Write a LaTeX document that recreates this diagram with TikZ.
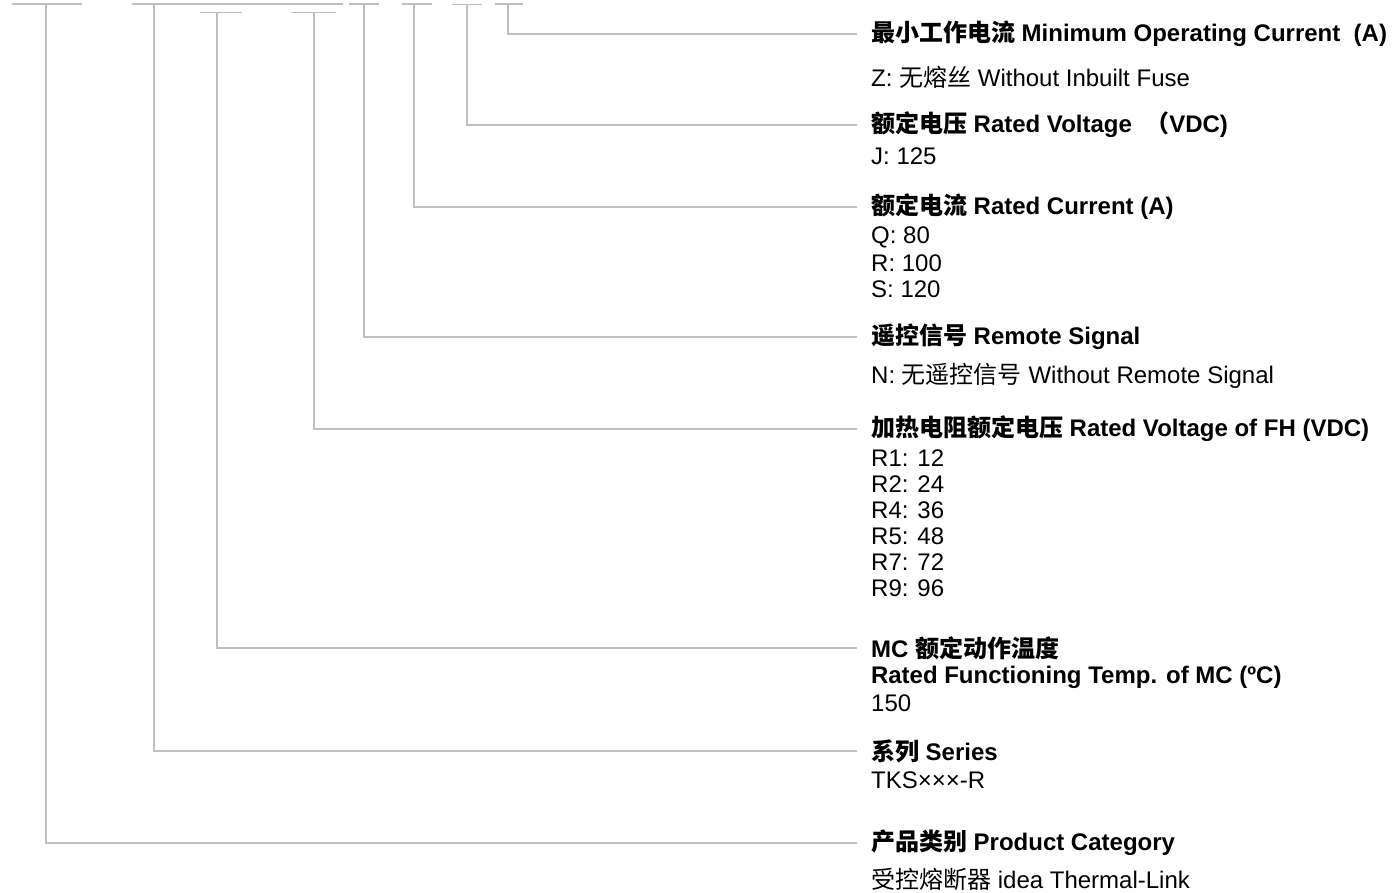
\documentclass[tikz,border=0pt]{standalone}
\usepackage{fontspec}
\setmainfont{Liberation Sans}
\newfontfamily\cjk{Noto Sans CJK SC}
\definecolor{linegray}{RGB}{192,192,192}
\definecolor{txt}{RGB}{0,0,0}
\begin{document}
\begin{tikzpicture}[x=1pt,y=-1pt,
  conn/.style={draw=linegray,line width=1.5pt},
  head/.style={anchor=west,inner sep=0pt,outer xsep=14pt,text=txt,font=\fontsize{24}{26}\selectfont\bfseries},
  body/.style={anchor=west,inner sep=0pt,text=txt,font=\fontsize{24}{26}\selectfont}]
\useasboundingbox (0,0) rectangle (1400,892);

% top bars (left end, stem, right end)
\coordinate (a1) at (12,4);  \coordinate (s1) at (46,4);  \coordinate (c1) at (82,4);
\coordinate (a2) at (132,4); \coordinate (s2) at (154,4); \coordinate (c2) at (343,4);
\coordinate (a3) at (200,12.5); \coordinate (s3) at (217,12.5); \coordinate (c3) at (242,12.5);
\coordinate (a4) at (291,12.5); \coordinate (s4) at (314,12.5); \coordinate (c4) at (336,12.5);
\coordinate (a5) at (349,4); \coordinate (s5) at (364,4); \coordinate (c5) at (379,4);
\coordinate (a6) at (402,4); \coordinate (s6) at (414,4); \coordinate (c6) at (432,4);
\coordinate (a7) at (452,4.5); \coordinate (s7) at (467,4.5); \coordinate (c7) at (482,4.5);
\coordinate (a8) at (495,4); \coordinate (s8) at (508,4); \coordinate (c8) at (523,4);

% headings
\node[head] (h8) at (857,34) {{\cjk 最小工作电流} Minimum Operating Current\ \ (A)};
\node[body] (b8) at (871,77) {Z: {\cjk 无熔丝} Without Inbuilt Fuse};

\node[head] (h7) at (857,125) {{\cjk 额定电压} Rated Voltage\ \ {\cjk （}VDC)};
\node[body] (b7) at (871,156) {J: 125};

\node[head] (h6) at (857,207) {{\cjk 额定电流} Rated Current (A)};
\node[body] (b6a) at (871,237) {Q: 80};
\node[body] (b6b) at (871,263) {R: 100};
\node[body] (b6c) at (871,289) {S: 120};

\node[head] (h5) at (857,337) {{\cjk 遥控信号} Remote Signal};
\node[body] (b5) at (871,376) {N: {\cjk 无遥控信号} Without Remote Signal};

\node[head] (h4) at (857,429) {{\cjk 加热电阻额定电压} Rated Voltage of FH (VDC)};
\node[body] (b4a) at (871,458) {R1: 12};
\node[body] (b4b) at (871,484) {R2: 24};
\node[body] (b4c) at (871,510) {R4: 36};
\node[body] (b4d) at (871,536) {R5: 48};
\node[body] (b4e) at (871,562) {R7: 72};
\node[body] (b4f) at (871,588) {R9: 96};

\node[head] (h3) at (857,648) {MC {\cjk 额定动作温度}};
\node[head] (h3b) at (857,677) {Rated Functioning Temp. of MC (ºC)};
\node[body] (b3) at (871,703) {150};

\node[head] (h2) at (857,751) {{\cjk 系列} Series};
\node[body] (b2) at (871,780) {TKS×××-R};

\node[head] (h1) at (857,843) {{\cjk 产品类别} Product Category};
\node[body] (b1) at (871,879) {{\cjk 受控熔断器} idea Thermal-Link};

% bars
\foreach \i in {1,...,8} {\draw[conn] (a\i) -- (c\i);}
% connectors
\draw[conn] (s1) |- (h1.west);
\draw[conn] (s2) |- (h2.west);
\draw[conn] (s3) |- (h3.west);
\draw[conn] (s4) |- (h4.west);
\draw[conn] (s5) |- (h5.west);
\draw[conn] (s6) |- (h6.west);
\draw[conn] (s7) |- (h7.west);
\draw[conn] (s8) |- (h8.west);
\end{tikzpicture}
\end{document}
